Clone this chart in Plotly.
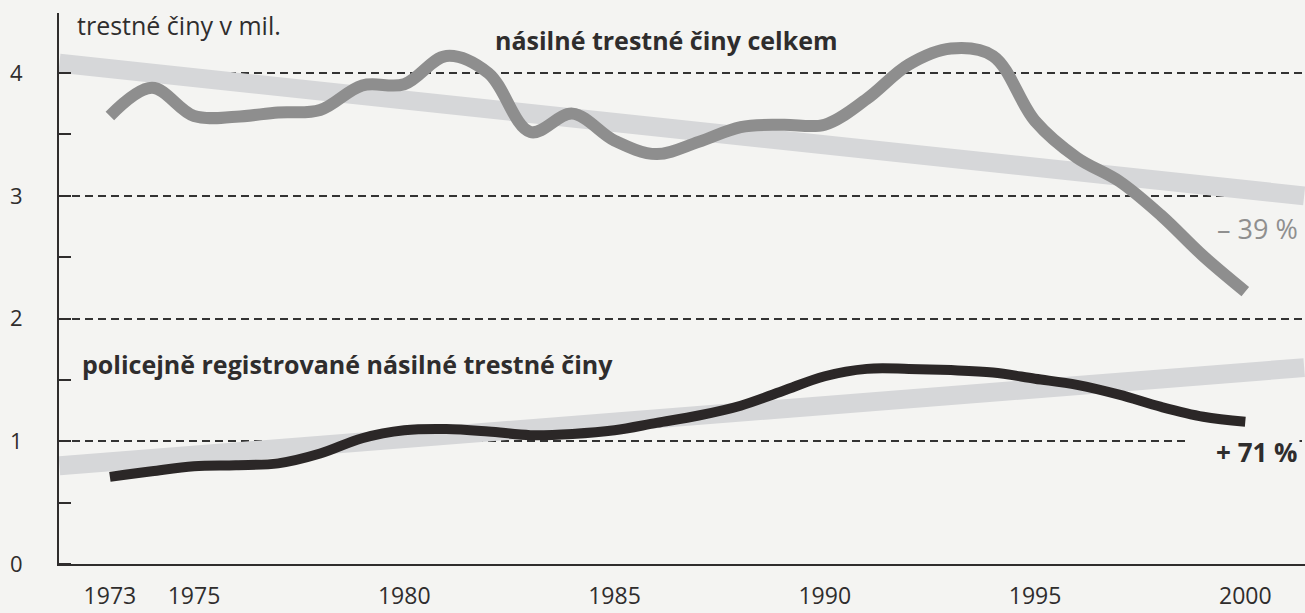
import plotly.graph_objects as go

# ---- data ----
years = list(range(1973, 2001))
total_violent = [3.65, 3.88, 3.65, 3.645, 3.68, 3.70, 3.90, 3.91, 4.14, 4.00,
                 3.52, 3.67, 3.45, 3.34, 3.44, 3.56, 3.58, 3.58, 3.79, 4.07,
                 4.20, 4.14, 3.61, 3.31, 3.12, 2.84, 2.51, 2.22]
police_violent = [0.71, 0.756, 0.797, 0.805, 0.82, 0.90, 1.025, 1.09, 1.10, 1.08,
                  1.05, 1.06, 1.09, 1.15, 1.21, 1.29, 1.41, 1.53, 1.59, 1.59,
                  1.58, 1.56, 1.51, 1.46, 1.38, 1.28, 1.20, 1.16]
trend_years = [1971.8, 2001.4]
total_trend = [4.08, 3.00]
police_trend = [0.80, 1.60]
x_ticks = [1973, 1975, 1980, 1985, 1990, 1995, 2000]
y_ticks = [0, 1, 2, 3, 4]

BG = "#f4f4f2"
INK = "#2f2d2d"
FONT = "Open Sans"

fig = go.Figure()
fig.add_trace(go.Scatter(x=trend_years, y=total_trend, mode="lines",
                         line=dict(color="#d6d7d9", width=19), hoverinfo="skip"))
fig.add_trace(go.Scatter(x=trend_years, y=police_trend, mode="lines",
                         line=dict(color="#d6d7d9", width=19), hoverinfo="skip"))
fig.add_trace(go.Scatter(x=years, y=total_violent, mode="lines",
                         line=dict(color="#8e8e8e", width=12, shape="spline", smoothing=1.0)))
fig.add_trace(go.Scatter(x=years, y=police_violent, mode="lines",
                         line=dict(color="#2b2727", width=10, shape="spline", smoothing=1.0)))

fig.update_layout(
    template="none",
    width=1305, height=613,
    margin=dict(l=59, r=0, t=13, b=49, autoexpand=False),
    paper_bgcolor=BG, plot_bgcolor=BG,
    showlegend=False,
    font=dict(family=FONT, color=INK, size=22),
    xaxis=dict(range=[1971.79, 2001.42], tickvals=x_ticks, ticks="",
               automargin=False,
               showgrid=False, zeroline=False, showline=True, linecolor=INK,
               linewidth=2, tickfont=dict(size=23, color=INK), ticklabelstandoff=10),
    yaxis=dict(range=[0, 4.49], tickvals=y_ticks, ticks="",
               automargin=False,
               showgrid=True, gridcolor="#333333", gridwidth=1.5, griddash="8px,5px",
               zeroline=False, showline=True, linecolor=INK, linewidth=2,
               tickfont=dict(size=22, color=INK), ticklabelstandoff=30,
               minor=dict(dtick=0.5, tick0=0, ticks="inside", ticklen=12,
                          tickwidth=2, tickcolor=INK, showgrid=False)),
)

anns = [
    dict(x=1972.17, y=4.39, text="trestné činy v mil.", xanchor="left",
         font=dict(size=25, color=INK)),
    dict(x=1982.11, y=4.27, text="<b>násilné trestné činy celkem</b>", xanchor="left",
         font=dict(size=25, color=INK)),
    dict(x=1972.29, y=1.63, text="<b>policejně registrované násilné trestné činy</b>",
         xanchor="left", font=dict(size=25, color=INK)),
    dict(x=2001.3, y=2.73, text="– 39 %", xanchor="right",
         font=dict(size=27, color="#8f8f8f")),
    dict(x=2001.3, y=0.91, text="\u00a0\u00a0\u00a0\u00a0<b>+ 71 %</b>", xanchor="right",
         font=dict(size=26, color=INK), bgcolor=BG),
]
for a in anns:
    fig.add_annotation(xref="x", yref="y", yanchor="middle", showarrow=False, **a)

fig.write_html("out.html", config={"displayModeBar": False},
               post_script="document.body.style.margin='0';"
                           "document.body.style.background='" + BG + "';")
